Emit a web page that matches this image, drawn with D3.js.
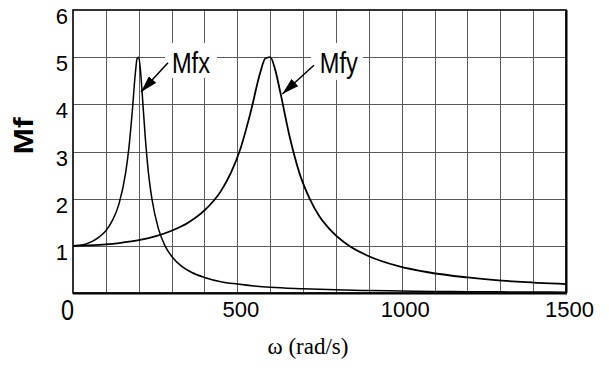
<!DOCTYPE html>
<html>
<head>
<meta charset="utf-8">
<script src="https://cdn.jsdelivr.net/npm/d3@7"></script>
<style>
  body { margin: 0; background: #fff; }
  svg { display: block; }
</style>
</head>
<body>
<svg id="chart" width="609" height="372"></svg>
<script>
// Magnification factor Mf against excitation frequency, two directions
const omegaX = [0, 20, 40, 60, 80, 100, 120, 140, 160, 170, 180, 190, 195, 200, 205, 210, 220, 230, 240, 260, 280, 300, 330, 360, 400, 450, 500, 600, 700, 800, 900, 1000, 1100, 1200, 1300, 1400, 1500];
const mfx    = [1.00, 1.01, 1.04, 1.10, 1.19, 1.32, 1.54, 1.89, 2.54, 3.07, 3.82, 4.68, 4.97, 5.00, 4.74, 4.28, 3.29, 2.52, 2.00, 1.36, 1.00, 0.78, 0.57, 0.44, 0.33, 0.24, 0.19, 0.12, 0.089, 0.067, 0.052, 0.042, 0.034, 0.029, 0.024, 0.021, 0.018];

const omegaY = [0, 50, 100, 150, 200, 250, 300, 350, 400, 450, 480, 510, 540, 570, 585, 600, 615, 630, 660, 690, 720, 750, 780, 840, 900, 990, 1080, 1200, 1350, 1500];
const mfy    = [1.00, 1.01, 1.03, 1.07, 1.12, 1.20, 1.32, 1.49, 1.75, 2.16, 2.54, 3.07, 3.82, 4.68, 4.97, 5.00, 4.74, 4.28, 3.29, 2.52, 2.00, 1.62, 1.36, 1.00, 0.78, 0.57, 0.44, 0.33, 0.24, 0.19];

const xTickValues = [0, 500, 1000, 1500];
const yTickValues = [1, 2, 3, 4, 5, 6];
const xGridValues = [100, 200, 300, 400, 500, 600, 700, 800, 900, 1000, 1100, 1200, 1300, 1400];
const yGridValues = [1, 2, 3, 4, 5];

// Callouts: label box, text anchor, arrow tail and head, in data units
const callouts = [
  { label: "Mfx", box: [280, 438, 5.30, 4.56], text: [301, 4.66], from: [289, 4.88], to: [207, 4.26] },
  { label: "Mfy", box: [724, 882, 5.30, 4.52], text: [751, 4.66], from: [733, 4.83], to: [637, 4.22] }
];

const svg = d3.select("#chart");
const plotL = 73, plotR = 566, plotT = 10, plotB = 293;

const x = d3.scaleLinear().domain([0, 1500]).range([plotL, plotR]);
const y = d3.scaleLinear().domain([0, 6]).range([plotB, plotT]);

// grid
const grid = svg.append("g").attr("stroke", "#5a5a5a").attr("stroke-width", 1);
grid.selectAll("line.gx").data(xGridValues).join("line")
  .attr("x1", d => Math.round(x(d)) + 0.5).attr("x2", d => Math.round(x(d)) + 0.5)
  .attr("y1", plotT).attr("y2", plotB);
grid.selectAll("line.gy").data(yGridValues).join("line")
  .attr("y1", d => Math.round(y(d)) + 0.5).attr("y2", d => Math.round(y(d)) + 0.5)
  .attr("x1", plotL).attr("x2", plotR);

// callout backgrounds knock out the grid behind the labels
svg.append("g").selectAll("rect").data(callouts).join("rect")
  .attr("x", d => x(d.box[0])).attr("y", d => y(d.box[2]))
  .attr("width", d => x(d.box[1]) - x(d.box[0]))
  .attr("height", d => y(d.box[3]) - y(d.box[2]))
  .attr("fill", "#fff");

// curves
const line = d3.line().x(d => x(d[0])).y(d => y(d[1])).curve(d3.curveMonotoneX);
const seriesX = omegaX.map((w, i) => [w, mfx[i]]);
const seriesY = omegaY.map((w, i) => [w, mfy[i]]);
svg.append("path").datum(seriesX).attr("d", line)
  .attr("fill", "none").attr("stroke", "#000").attr("stroke-width", 1.5);
svg.append("path").datum(seriesY).attr("d", line)
  .attr("fill", "none").attr("stroke", "#000").attr("stroke-width", 1.8);

// frame
svg.append("rect").attr("x", plotL).attr("y", plotT)
  .attr("width", plotR - plotL).attr("height", plotB - plotT)
  .attr("fill", "none").attr("stroke", "#000").attr("stroke-width", 1.6);
svg.append("line").attr("x1", plotL).attr("x2", plotR + 1).attr("y1", plotB + 0.5).attr("y2", plotB + 0.5)
  .attr("stroke", "#000").attr("stroke-width", 2.2);
svg.append("line").attr("x1", plotR + 0.5).attr("x2", plotR + 0.5).attr("y1", plotT).attr("y2", plotB)
  .attr("stroke", "#000").attr("stroke-width", 2);

// axes (labels only)
const tickFont = "'Liberation Sans', Arial, sans-serif";
const yAxis = svg.append("g").attr("transform", `translate(${plotL},0)`)
  .call(d3.axisLeft(y).tickValues(yTickValues).tickFormat(d3.format("d")).tickSize(0).tickPadding(5));
yAxis.select(".domain").remove();
yAxis.selectAll("text")
  .attr("font-family", tickFont).attr("font-size", 22).attr("fill", "#000")
  .attr("dy", "0.62em");

const xAxis = svg.append("g").attr("transform", `translate(0,${plotB})`)
  .call(d3.axisBottom(x).tickValues(xTickValues).tickFormat(d3.format("d")).tickSize(0).tickPadding(8));
xAxis.select(".domain").remove();
xAxis.selectAll("text")
  .attr("font-family", tickFont).attr("font-size", 22).attr("fill", "#000")
  .attr("dx", 3);
xAxis.selectAll(".tick").filter(d => d === 0).select("text")
  .attr("font-size", 29).attr("dx", -6).attr("dy", "0.66em")
  .attr("textLength", 13).attr("lengthAdjust", "spacingAndGlyphs");

// axis titles
svg.append("text")
  .attr("transform", `translate(33,136) rotate(-90)`)
  .attr("text-anchor", "middle")
  .attr("font-family", tickFont).attr("font-weight", "bold").attr("font-size", 27)
  .attr("textLength", 37).attr("lengthAdjust", "spacingAndGlyphs")
  .text("Mf");

svg.append("text")
  .attr("x", 308).attr("y", 354)
  .attr("text-anchor", "middle")
  .attr("font-family", "'Liberation Serif', 'Times New Roman', serif").attr("font-size", 23)
  .text("ω (rad/s)");

// callout arrows and labels
const defs = svg.append("defs");
defs.append("marker").attr("id", "arrowhead")
  .attr("markerUnits", "userSpaceOnUse")
  .attr("viewBox", "0 0 17 10").attr("refX", 17).attr("refY", 5)
  .attr("markerWidth", 17).attr("markerHeight", 10)
  .attr("orient", "auto")
  .append("path").attr("d", "M0,0 L17,5 L0,10 Z").attr("fill", "#000");

const co = svg.append("g");
co.selectAll("line").data(callouts).join("line")
  .attr("x1", d => x(d.from[0])).attr("y1", d => y(d.from[1]))
  .attr("x2", d => x(d.to[0])).attr("y2", d => y(d.to[1]))
  .attr("stroke", "#000").attr("stroke-width", 1.5)
  .attr("marker-end", "url(#arrowhead)");
co.selectAll("text").data(callouts).join("text")
  .attr("x", d => x(d.text[0])).attr("y", d => y(d.text[1]))
  .attr("font-family", tickFont).attr("font-size", 29)
  .attr("textLength", 38).attr("lengthAdjust", "spacingAndGlyphs")
  .attr("fill", "#000")
  .text(d => d.label);
</script>
</body>
</html>
